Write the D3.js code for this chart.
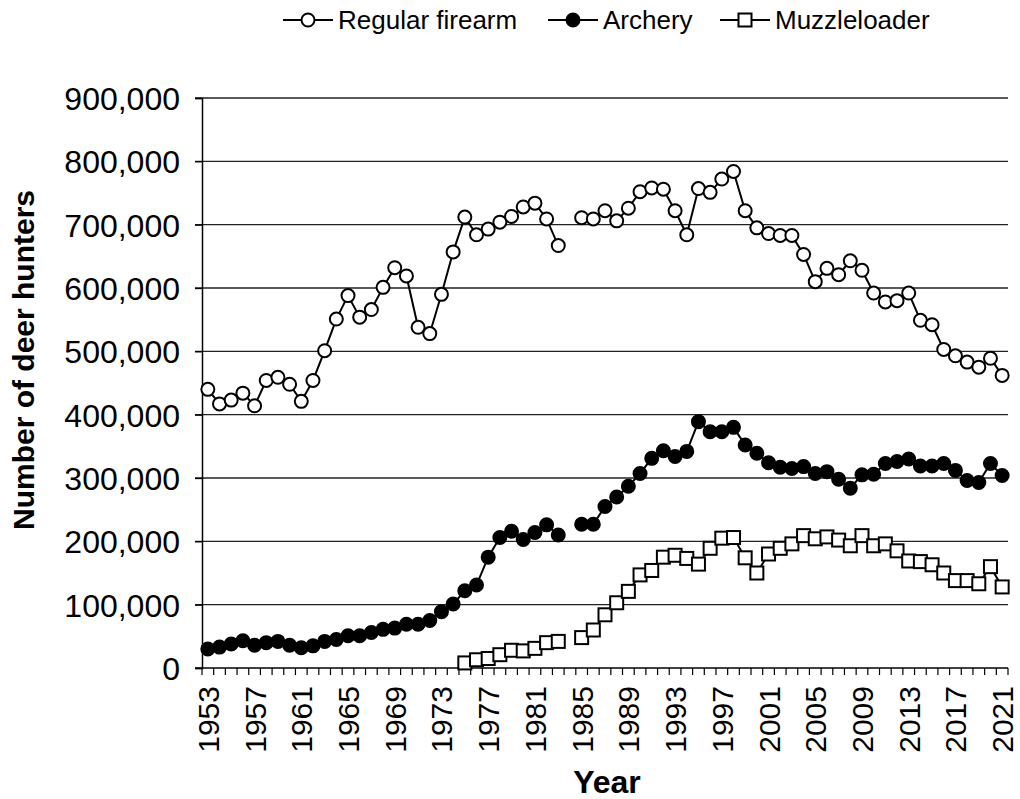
<!DOCTYPE html>
<html>
<head>
<meta charset="utf-8">
<script src="https://cdn.jsdelivr.net/npm/d3@7"></script>
<style>
  body { margin: 0; background: #fff; }
  svg text { font-family: "Liberation Sans", Arial, sans-serif; fill: #000; }
</style>
</head>
<body>
<script>
// years 1953..2021, 1984 has no data (null)
var years = d3.range(1953, 2022);

var firearm = [440000, 417000, 423000, 434000, 414000, 454000, 459000, 448000, 421000, 454000,
  501000, 551000, 588000, 554000, 566000, 601000, 632000, 619000, 538000, 528000,
  590000, 657000, 712000, 684000, 693000, 704000, 713000, 728000, 734000, 709000,
  667000, null, 711000, 709000, 722000, 706000, 726000, 752000, 758000, 756000,
  722000, 684000, 757000, 751000, 772000, 784000, 722000, 695000, 686000, 683000,
  683000, 653000, 610000, 631000, 621000, 643000, 628000, 592000, 578000, 580000,
  592000, 549000, 542000, 503000, 493000, 483000, 475000, 489000, 462000];

var archery = [30000, 33000, 38000, 43000, 36000, 40000, 42000, 36000, 32000, 35000,
  42000, 45000, 51000, 51000, 56000, 61000, 63000, 69000, 69000, 75000,
  89000, 101000, 122000, 131000, 175000, 206000, 216000, 203000, 214000, 226000,
  210000, null, 227000, 227000, 255000, 270000, 287000, 307000, 331000, 343000,
  334000, 342000, 389000, 373000, 373000, 380000, 352000, 339000, 324000, 317000,
  315000, 318000, 307000, 310000, 298000, 284000, 305000, 306000, 323000, 326000,
  330000, 319000, 319000, 323000, 312000, 296000, 293000, 323000, 304000];

var muzzleloader = [null, null, null, null, null, null, null, null, null, null,
  null, null, null, null, null, null, null, null, null, null,
  null, null, 8000, 13000, 15000, 21000, 28000, 27000, 31000, 40000,
  42000, null, 48000, 60000, 84000, 103000, 121000, 147000, 154000, 175000,
  178000, 173000, 164000, 189000, 205000, 206000, 174000, 150000, 180000, 189000,
  196000, 209000, 204000, 207000, 202000, 193000, 209000, 193000, 196000, 185000,
  169000, 168000, 163000, 150000, 138000, 138000, 133000, 160000, 128000];

var yTicks = [0, 100000, 200000, 300000, 400000, 500000, 600000, 700000, 800000, 900000];
var xLabelYears = d3.range(1953, 2022, 4);

var W = 1020, H = 799;
var plotLeft = 202, plotRight = 1008, plotTop = 98, plotBottom = 668;

var svg = d3.select("body").append("svg")
    .attr("width", W)
    .attr("height", H);

var x = d3.scaleBand()
    .domain(years)
    .range([plotLeft, plotRight])
    .padding(0);

var y = d3.scaleLinear()
    .domain([0, 900000])
    .range([plotBottom, plotTop]);

function cx(yr) { return x(yr) + x.bandwidth() / 2; }

// gridlines
svg.append("g")
   .selectAll("line")
   .data(yTicks.filter(function(d) { return d > 0; }))
   .enter().append("line")
   .attr("x1", plotLeft - 7)
   .attr("x2", plotRight)
   .attr("y1", function(d) { return y(d); })
   .attr("y2", function(d) { return y(d); })
   .attr("stroke", "#222")
   .attr("stroke-width", 1.3);

// y axis
var yAxis = svg.append("g")
    .attr("transform", "translate(" + plotLeft + ",0)")
    .call(d3.axisLeft(y).tickValues(yTicks).tickSize(7).tickPadding(15)
      .tickFormat(function(d) { return d === 0 ? "0" : d3.format(",")(d); }));
yAxis.select(".domain").attr("stroke", "#000").attr("stroke-width", 1.5);
yAxis.selectAll(".tick line").attr("stroke", "#000").attr("stroke-width", 1.3);
yAxis.selectAll("text")
     .attr("font-size", 32)
     .attr("dy", "0.36em")
     .style("font-family", "'Liberation Sans', Arial, sans-serif");

// x axis: ticks at category boundaries
var xg = svg.append("g");
xg.append("line")
  .attr("x1", plotLeft - 7).attr("x2", plotRight)
  .attr("y1", plotBottom).attr("y2", plotBottom)
  .attr("stroke", "#000").attr("stroke-width", 1.5);
xg.selectAll(".xt")
  .data(years.concat([2022]))
  .enter().append("line")
  .attr("class", "xt")
  .attr("x1", function(d, i) { return plotLeft + i * x.bandwidth(); })
  .attr("x2", function(d, i) { return plotLeft + i * x.bandwidth(); })
  .attr("y1", plotBottom)
  .attr("y2", plotBottom + 7)
  .attr("stroke", "#000")
  .attr("stroke-width", 1.2);
xg.selectAll(".xl")
  .data(xLabelYears)
  .enter().append("text")
  .attr("class", "xl")
  .attr("transform", function(d) { return "translate(" + (cx(d) + 11) + "," + (plotBottom + 18) + ") rotate(-90)"; })
  .attr("text-anchor", "end")
  .attr("font-size", 30)
  .text(function(d) { return d; });

// axis titles
svg.append("text")
   .attr("x", 607)
   .attr("y", 793)
   .attr("text-anchor", "middle")
   .attr("font-size", 32)
   .attr("font-weight", "bold")
   .text("Year");

svg.append("text")
   .attr("transform", "translate(34,360) rotate(-90)")
   .attr("text-anchor", "middle")
   .attr("font-size", 30)
   .attr("font-weight", "bold")
   .text("Number of deer hunters");

// series
var series = [
  { name: "Regular firearm", values: firearm, marker: "circle", fill: "#fff" },
  { name: "Archery", values: archery, marker: "circle", fill: "#000" },
  { name: "Muzzleloader", values: muzzleloader, marker: "square", fill: "#fff" }
];

var line = d3.line()
    .defined(function(d) { return d.v !== null; })
    .x(function(d) { return cx(d.yr); })
    .y(function(d) { return y(d.v); });

function drawMarker(g, s, px, py) {
  if (s.marker === "circle") {
    g.append("circle")
     .attr("cx", px).attr("cy", py).attr("r", 6.5)
     .attr("fill", s.fill).attr("stroke", "#000").attr("stroke-width", 2);
  } else {
    g.append("rect")
     .attr("x", px - 6.5).attr("y", py - 6.5)
     .attr("width", 13).attr("height", 13)
     .attr("fill", s.fill).attr("stroke", "#000").attr("stroke-width", 2);
  }
}

series.forEach(function(s) {
  var pts = years.map(function(yr, i) { return { yr: yr, v: s.values[i] }; });
  var g = svg.append("g");
  g.append("path")
   .datum(pts)
   .attr("d", line)
   .attr("fill", "none")
   .attr("stroke", "#000")
   .attr("stroke-width", 2);
  pts.filter(function(d) { return d.v !== null; }).forEach(function(d) {
    drawMarker(g, s, cx(d.yr), y(d.v));
  });
});

// legend
var legendX = [283, 548, 720];
series.forEach(function(s, i) {
  var g = svg.append("g");
  var lx = legendX[i];
  g.append("line")
   .attr("x1", lx).attr("x2", lx + 50)
   .attr("y1", 20).attr("y2", 20)
   .attr("stroke", "#000").attr("stroke-width", 2);
  drawMarker(g, s, lx + 25, 20);
  g.append("text")
   .attr("x", lx + 55)
   .attr("y", 29)
   .attr("font-size", 26)
   .text(s.name);
});
</script>
</body>
</html>
